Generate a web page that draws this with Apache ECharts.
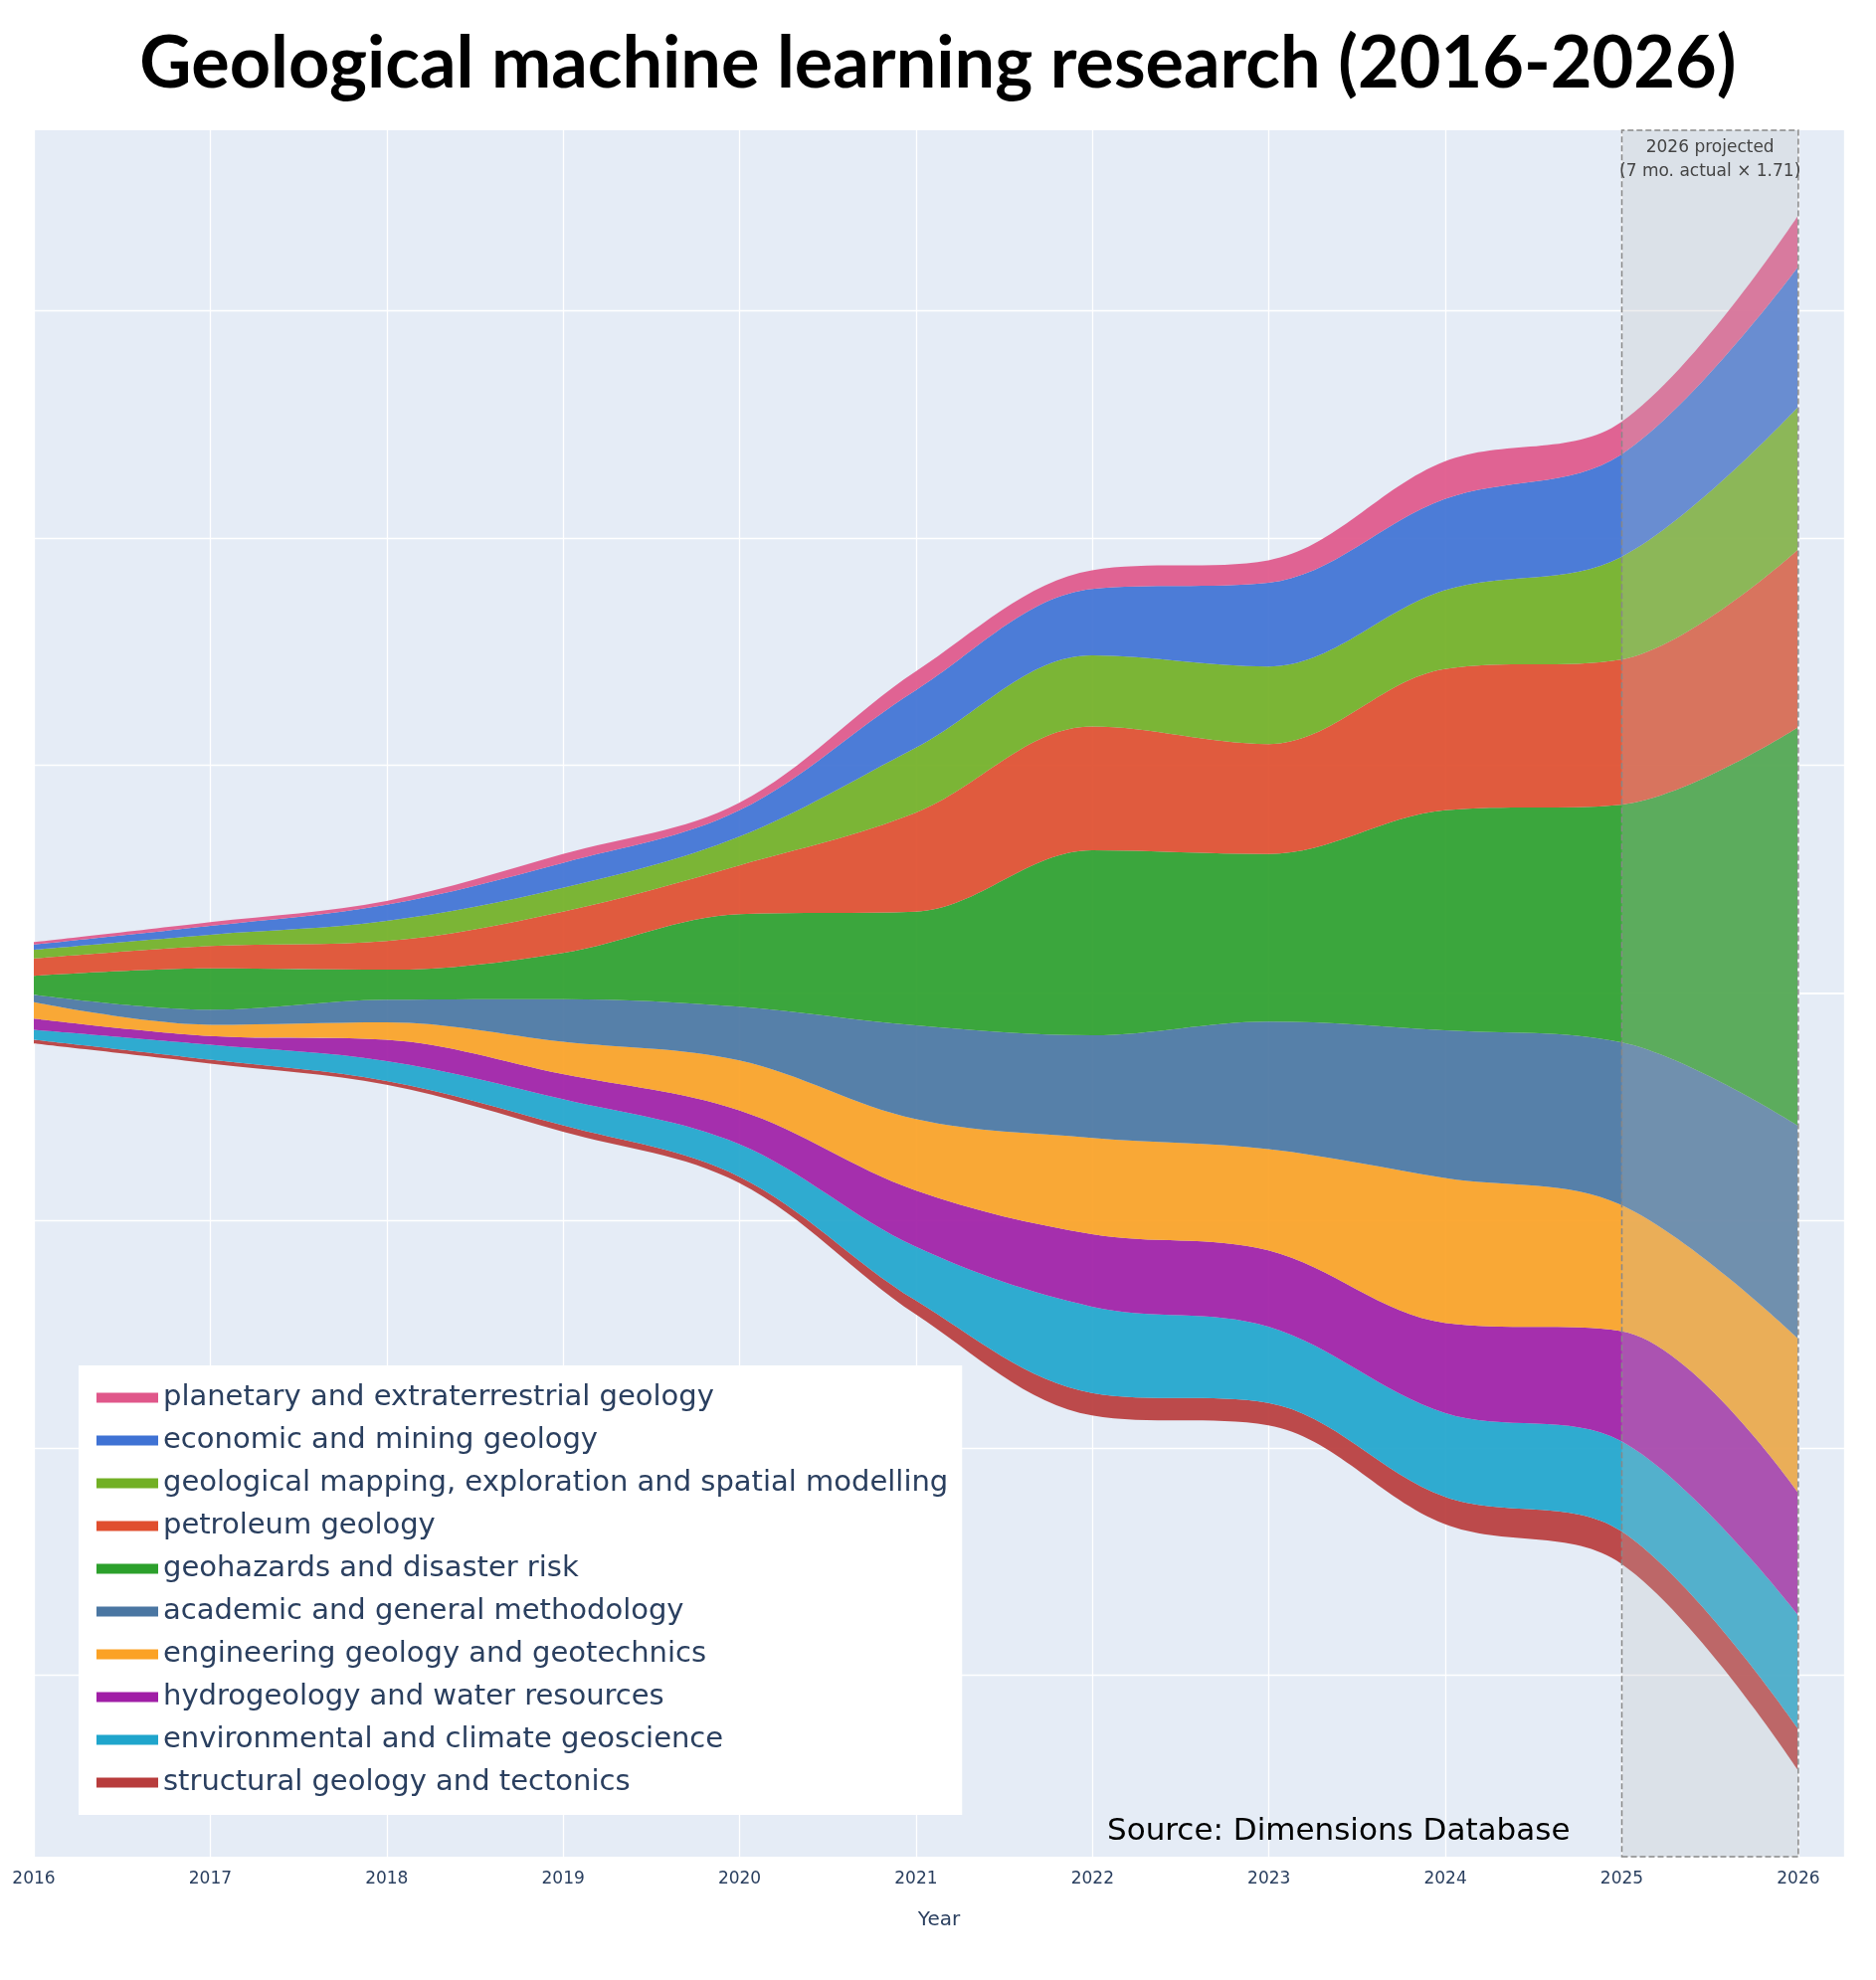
<!DOCTYPE html>
<html>
<head>
    <meta charset="utf-8">
    <title>Geological machine learning research (2016-2026)</title>
    <script src="https://cdn.jsdelivr.net/npm/echarts@6.0.0/dist/echarts.min.js"></script>
    <style>
        body { margin: 0; background: #fff; }
        #chart-container { width: 1886px; height: 1991px; }
    </style>
</head>
<body>
<div id="chart-container"></div>
<script>
    var myChart = echarts.init(document.getElementById('chart-container'));

    var years = [2016, 2017, 2018, 2019, 2020, 2021, 2022, 2023, 2024, 2025, 2026];

    // bottom layer first
    var topics = [
        { name: 'structural geology and tectonics', color: '#b83c3c', data: [3, 3, 3, 5, 5, 11, 18, 18, 22, 26, 33] },
        { name: 'environmental and climate geoscience', color: '#1fa5cc', data: [8, 12, 16, 21, 26, 43, 69, 61, 67, 72, 91] },
        { name: 'hydrogeology and water resources', color: '#a01ea6', data: [9, 7, 17, 20, 27, 45, 58, 61, 72, 88, 98] },
        { name: 'engineering geology and geotechnics', color: '#fba225', data: [13, 9, 14, 26, 40, 57, 77, 81, 116, 101, 123] },
        { name: 'academic and general methodology', color: '#4a76a2', data: [6, 12, 18, 34, 43, 75, 82, 102, 118, 130, 170] },
        { name: 'geohazards and disaster risk', color: '#2ca02c', data: [15, 33, 24, 37, 74, 91, 148, 134, 176, 190, 318] },
        { name: 'petroleum geology', color: '#e04e2e', data: [14, 18, 23, 33, 39, 79, 99, 88, 113, 116, 142] },
        { name: 'geological mapping, exploration and spatial modelling', color: '#72b025', data: [7, 9, 16, 19, 23, 52, 57, 62, 63, 82, 114] },
        { name: 'economic and mining geology', color: '#3f72d4', data: [4, 7, 13, 20, 21, 46, 53, 67, 73, 82, 112] },
        { name: 'planetary and extraterrestrial geology', color: '#e0578a', data: [2, 3, 3, 7, 6, 15, 15, 18, 30, 26, 41] }
    ];

    var totals = years.map(function (y, i) {
        return topics.reduce(function (s, t) { return s + t.data[i]; }, 0);
    });

    var yMin = -691, yMax = 690;

    // grid 0: background, year axis, gridlines, projected box
    // grid 1: the stream itself on a category axis (2016..2026)
    var series = [{
        name: 'grid',
        type: 'line',
        xAxisIndex: 0,
        yAxisIndex: 0,
        data: [],
        z: 1,
        silent: true,
        markLine: {
            silent: true,
            z: 1,
            symbol: 'none',
            label: { show: false },
            lineStyle: { color: '#ffffff', type: 'solid', width: 1.3 },
            data: [-546, -364, -182, 0, 182, 364, 546].map(function (v) {
                return { yAxis: v, lineStyle: { width: v === 0 ? 2 : 1.3 } };
            })
        }
    }, {
        name: 'base',
        type: 'line',
        xAxisIndex: 1,
        yAxisIndex: 1,
        stack: 's',
        stackStrategy: 'all',
        smooth: 0.35,
        symbol: 'none',
        silent: true,
        lineStyle: { opacity: 0 },
        data: totals.map(function (t) { return -t / 2; })
    }];

    topics.forEach(function (t) {
        series.push({
            name: t.name,
            type: 'line',
            xAxisIndex: 1,
            yAxisIndex: 1,
            stack: 's',
            stackStrategy: 'all',
            smooth: 0.35,
            symbol: 'none',
            z: 3,
            lineStyle: { width: 0 },
            itemStyle: { color: t.color },
            areaStyle: { color: t.color, opacity: 0.92 },
            data: t.data
        });
    });

    // projected year shading
    series.push({
        name: 'proj',
        type: 'line',
        xAxisIndex: 0,
        yAxisIndex: 0,
        data: [],
        z: 10,
        silent: true,
        markArea: {
            silent: true,
            z: 10,
            itemStyle: {
                color: 'rgba(190,190,190,0.25)',
                borderColor: '#888',
                borderWidth: 1.5,
                borderType: 'dashed'
            },
            label: {
                show: true,
                position: 'insideTop',
                distance: 6,
                formatter: '2026 projected\n(7 mo. actual × 1.71)',
                color: '#444',
                fontSize: 17,
                lineHeight: 24,
                fontFamily: 'DejaVu Sans'
            },
            data: [[{ xAxis: 2025, yAxis: yMin }, { xAxis: 2026, yAxis: yMax }]]
        }
    });

    var option = {
        backgroundColor: '#ffffff',
        title: {
            text: 'Geological machine learning research (2016-2026)',
            left: 'center',
            top: 24,
            textStyle: { fontSize: 72, fontWeight: 'bold', color: '#000', fontFamily: 'Lato' }
        },
        grid: [
            { left: 34, right: 32, top: 131, bottom: 124, backgroundColor: '#e5ecf6', show: true, borderWidth: 0 },
            { left: 34, right: 79, top: 131, bottom: 124 }
        ],
        xAxis: [{
            type: 'value',
            gridIndex: 0,
            min: 2016,
            max: 2026.26,
            interval: 1,
            name: 'Year',
            nameLocation: 'middle',
            nameGap: 54,
            nameTextStyle: { fontSize: 20, color: '#2a3f5f', fontFamily: 'DejaVu Sans' },
            axisLine: { show: false },
            axisTick: { show: false },
            axisLabel: {
                fontSize: 17, color: '#2a3f5f', margin: 14, fontFamily: 'DejaVu Sans',
                formatter: function (v) { return v <= 2026 ? String(v) : ''; }
            },
            splitLine: { show: true, lineStyle: { color: '#ffffff', width: 1.3 } }
        }, {
            type: 'category',
            gridIndex: 1,
            boundaryGap: false,
            data: years.map(String),
            show: false
        }],
        yAxis: [{
            type: 'value',
            gridIndex: 0,
            min: yMin,
            max: yMax,
            axisLabel: { show: false },
            axisLine: { show: false },
            axisTick: { show: false },
            splitLine: { show: false }
        }, {
            type: 'value',
            gridIndex: 1,
            min: yMin,
            max: yMax,
            show: false,
            splitLine: { show: false }
        }],
        legend: {
            orient: 'vertical',
            left: 79,
            top: 1373,
            padding: [18, 14, 18, 18],
            backgroundColor: '#ffffff',
            itemGap: 14,
            icon: 'rect',
            itemWidth: 62,
            itemHeight: 10,
            z: 20,
            textStyle: { fontSize: 29, color: '#2a3f5f', fontFamily: 'DejaVu Sans' },
            data: topics.slice().reverse().map(function (t) { return t.name; })
        },
        graphic: [{
            type: 'text',
            left: 1113,
            top: 1826,
            z: 20,
            style: { text: 'Source: Dimensions Database', fontSize: 31, fill: '#000', fontFamily: 'DejaVu Sans' }
        }],
        series: series
    };

    myChart.setOption(option);
</script>
</body>
</html>
